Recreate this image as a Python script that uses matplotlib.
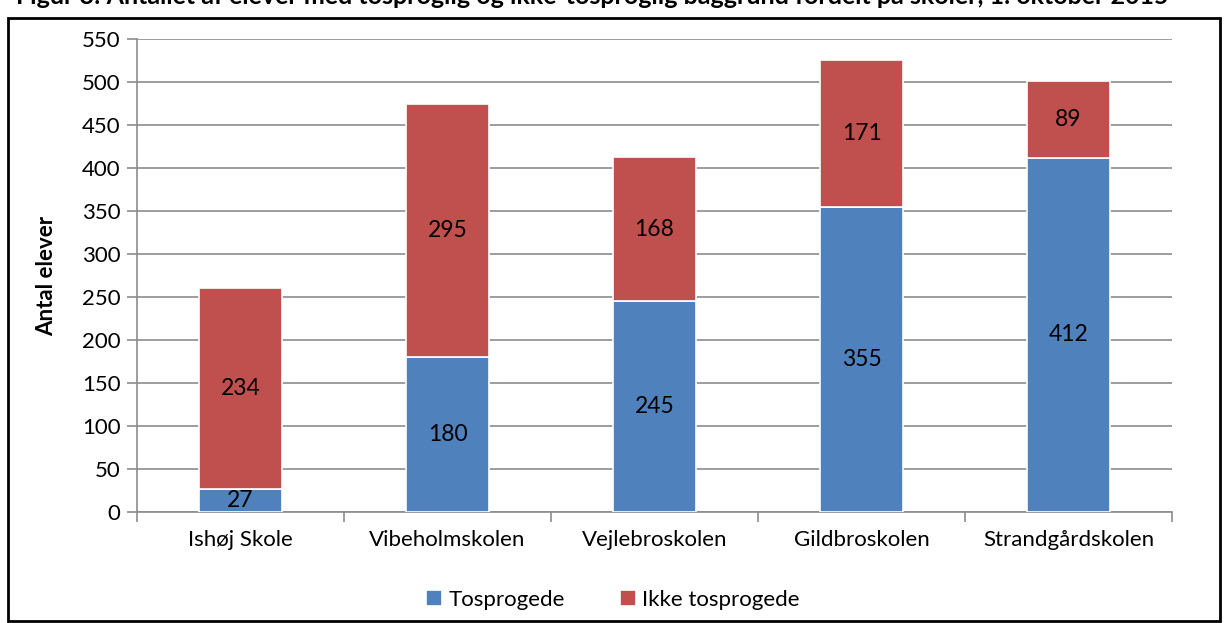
import matplotlib
matplotlib.use("Agg")
import matplotlib.pyplot as plt
from matplotlib.patches import Rectangle
import numpy as np

plt.rcParams['font.family'] = ['Lato', 'DejaVu Sans']

skoler = ['Ishøj Skole', 'Vibeholmskolen', 'Vejlebroskolen', 'Gildbroskolen', 'Strandgårdskolen']
tosprogede = [27, 180, 245, 355, 412]
ikke_tosprogede = [234, 295, 168, 171, 89]
yticks = list(range(0, 551, 50))

fig = plt.figure(figsize=(12.26, 6.23), dpi=100)
ax = fig.add_axes([137 / 1226, 111 / 623, 1035 / 1226, 473 / 623])

x = np.arange(len(skoler))
b1 = ax.bar(x, tosprogede, width=0.4, color='#4F81BD', edgecolor='white', linewidth=1.2,
            label='Tosprogede', zorder=3)
b2 = ax.bar(x, ikke_tosprogede, width=0.4, bottom=tosprogede, color='#C0504D',
            edgecolor='white', linewidth=1.2, label='Ikke tosprogede', zorder=3)

for i in range(len(skoler)):
    ax.text(x[i], tosprogede[i] / 2, str(tosprogede[i]), ha='center', va='center',
            fontsize=16.5, zorder=4)
    ax.text(x[i], tosprogede[i] + ikke_tosprogede[i] / 2, str(ikke_tosprogede[i]),
            ha='center', va='center', fontsize=16.5, zorder=4)

ax.set_xlim(-0.5, len(skoler) - 0.5)
ax.set_ylim(0, 550)
ax.set_yticks(yticks)
ax.set_xticks(x)
ax.set_xticklabels(skoler, fontsize=16)
ax.set_xticks(np.arange(-0.5, len(skoler), 1), minor=True)
ax.tick_params(axis='x', which='major', length=0, pad=13)
ax.tick_params(axis='x', which='minor', length=7, color='#8c8c8c', width=1.2)
ax.tick_params(axis='y', labelsize=16, length=7, color='#8c8c8c', width=1.2, pad=5)
ax.yaxis.grid(True, color='#8c8c8c', linewidth=1.2, zorder=0)
for s in ['top', 'right']:
    ax.spines[s].set_visible(False)
for s in ['left', 'bottom']:
    ax.spines[s].set_color('#8c8c8c')
    ax.spines[s].set_linewidth(1.2)
ax.set_ylabel('Antal elever', fontsize=16, fontweight='bold', labelpad=18)

fig.legend(handles=[b1, b2], loc='center', bbox_to_anchor=(0.5, 1 - 600 / 623), ncol=2,
           frameon=False, fontsize=16, handlelength=0.7, handleheight=0.7,
           handletextpad=0.3, columnspacing=2.5)

# title is clipped at the top edge in the source image
fig.text(592 / 1226, 1 - 4 / 623,
         'Figur 3: Antallet af elever med tosproglig og ikke-tosproglig baggrund fordelt på skoler, 1. oktober 2015',
         ha='center', va='baseline', fontsize=18, fontweight='bold')

fig.patches.append(Rectangle((8 / 1226, 2 / 623), 1212 / 1226, 603 / 623, transform=fig.transFigure,
                             fill=False, edgecolor='black', linewidth=2))

fig.savefig('out.png', dpi=100)
